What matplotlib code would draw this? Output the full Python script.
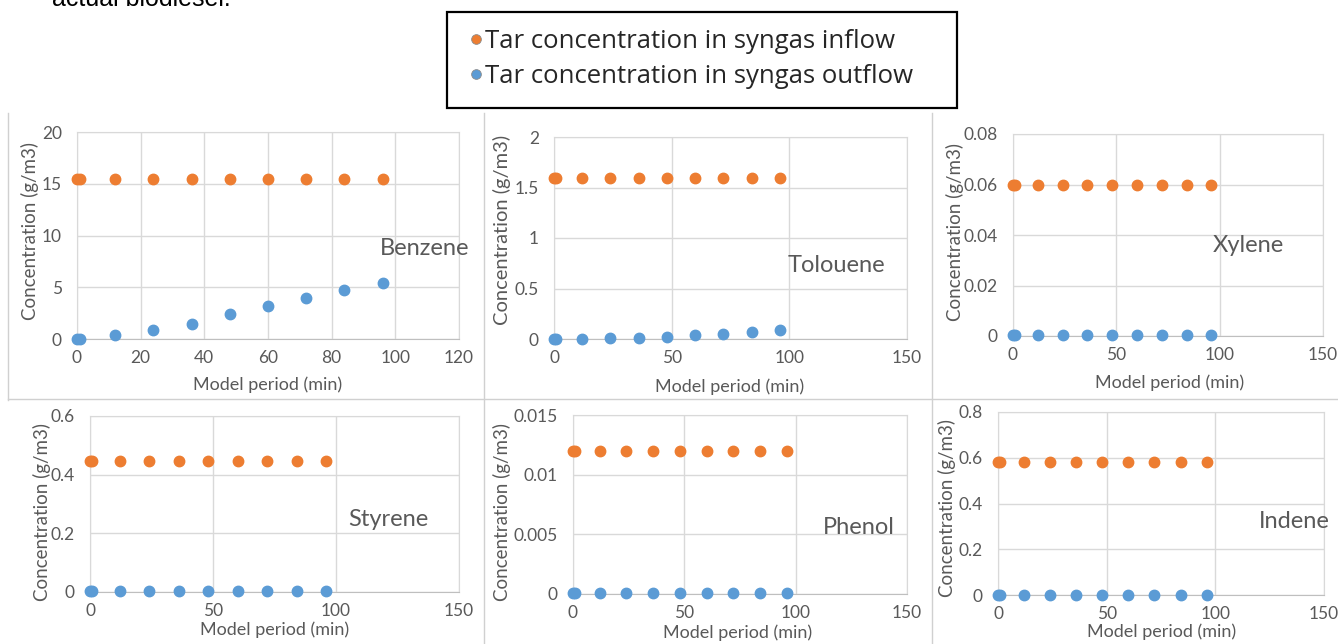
import matplotlib
matplotlib.use('Agg')
import matplotlib.pyplot as plt
from matplotlib.lines import Line2D
from matplotlib.patches import Rectangle
from matplotlib.ticker import FuncFormatter

# dane
czas = [0, 1, 12, 24, 36, 48, 60, 72, 84, 96]

nazwy = ['Benzene', 'Tolouene', 'Xylene', 'Styrene', 'Phenol', 'Indene']

benzene_in = [15.5, 15.5, 15.5, 15.5, 15.5, 15.5, 15.5, 15.5, 15.5, 15.5]
benzene_out = [0, 0, 0.35, 0.83, 1.48, 2.41, 3.18, 3.98, 4.75, 5.39]

toluene_in = [1.59, 1.59, 1.59, 1.59, 1.59, 1.59, 1.59, 1.59, 1.59, 1.59]
toluene_out = [0.002, 0.002, 0.003, 0.005, 0.005, 0.02, 0.036, 0.053, 0.07, 0.085]

xylene_in = [0.06, 0.06, 0.06, 0.06, 0.06, 0.06, 0.06, 0.06, 0.06, 0.06]
xylene_out = [0.0002, 0.0002, 0.0002, 0.0002, 0.0002, 0.0002, 0.0002, 0.0002, 0.0002, 0.0002]

styrene_in = [0.448, 0.448, 0.448, 0.448, 0.448, 0.448, 0.448, 0.448, 0.448, 0.448]
styrene_out = [0.003, 0.003, 0.003, 0.003, 0.003, 0.003, 0.003, 0.003, 0.003, 0.003]

phenol_in = [0.012, 0.012, 0.012, 0.012, 0.012, 0.012, 0.012, 0.012, 0.012, 0.012]
phenol_out = [0.0001, 0.0001, 0.0001, 0.0001, 0.0001, 0.0001, 0.0001, 0.0001, 0.0001, 0.0001]

indene_in = [0.582, 0.582, 0.582, 0.582, 0.582, 0.582, 0.582, 0.582, 0.582, 0.582]
indene_out = [0.002, 0.002, 0.002, 0.002, 0.002, 0.002, 0.002, 0.002, 0.002, 0.002]

wejscie = [benzene_in, toluene_in, xylene_in, styrene_in, phenol_in, indene_in]
wyjscie = [benzene_out, toluene_out, xylene_out, styrene_out, phenol_out, indene_out]

# zakresy osi (max, krok) dla kazdego panelu
y_max = [20, 2, 0.08, 0.6, 0.015, 0.8]
y_krok = [5, 0.5, 0.02, 0.2, 0.005, 0.2]
x_max = [120, 150, 150, 150, 150, 150]
x_krok = [20, 50, 50, 50, 50, 50]

legenda = ['Tar concentration in syngas inflow', 'Tar concentration in syngas outflow']

POMARANCZ = '#ED7D31'
NIEBIESKI = '#5B9BD5'
SZARY = '#595959'
SIATKA = '#D9D9D9'

plt.rcParams['font.family'] = ['Lato', 'DejaVu Sans']

W, H = 1338, 644
fig = plt.figure(figsize=(W / 100, H / 100), dpi=100)


def fx(x):
    return x / W


def fy(y):
    return 1 - y / H


# polozenie w pikselach: lewo, prawo, gora, dol obszaru wykresu,
# etykieta osi y (x, srodek y, rozmiar), etykieta osi x (srodek x, y), pozycja nazwy
uklad = [
    (77, 459, 132, 339, (30, 231, 13.5), (268, 385), (380, 248)),
    (554, 907, 137, 339, (502, 230, 14.5), (730, 387), (788, 265)),
    (1013, 1323, 134, 336, (955, 232, 13.5), (1170, 383), (1213, 245)),
    (90, 459, 416, 592, (42, 512, 13.5), (275, 630), (348, 519)),
    (573, 907, 415, 594, (502, 512, 13.5), (738, 633), (823, 528)),
    (998, 1324, 412, 595, (947, 508, 13.5), (1162, 632), (1259, 522)),
]

fmt = FuncFormatter(lambda v, p: '%g' % round(v, 6))

for i, (l, r, t, b, ylab, xlab, npos) in enumerate(uklad):
    ax = fig.add_axes([fx(l), fy(b), fx(r - l), (b - t) / H])
    ax.plot(czas, wejscie[i], 'o', color=POMARANCZ, ms=7.5, clip_on=False, zorder=3)
    ax.plot(czas, wyjscie[i], 'o', color=NIEBIESKI, ms=7.5, clip_on=False, zorder=3)
    ax.set_xlim(0, x_max[i])
    ax.set_ylim(0, y_max[i])
    n_x = int(round(x_max[i] / x_krok[i]))
    n_y = int(round(y_max[i] / y_krok[i]))
    ax.set_xticks([k * x_krok[i] for k in range(n_x + 1)])
    ax.set_yticks([k * y_krok[i] for k in range(n_y + 1)])
    ax.xaxis.set_major_formatter(fmt)
    ax.yaxis.set_major_formatter(fmt)
    ax.tick_params(length=0, labelsize=12.5, colors=SZARY, pad=8)
    ax.tick_params(axis='y', pad=11)
    ax.grid(True, color=SIATKA, lw=1)
    ax.set_axisbelow(True)
    for s in ax.spines.values():
        s.set_color(SIATKA)
    ax.spines['bottom'].set_color('#BFBFBF')

    fig.text(fx(ylab[0]), fy(ylab[1]), 'Concentration (g/m3)', rotation=90,
             ha='center', va='center', fontsize=ylab[2], color=SZARY)
    fig.text(fx(xlab[0]), fy(xlab[1]), 'Model period (min)', ha='center', va='center',
             fontsize=13, color=SZARY)
    fig.text(fx(npos[0]), fy(npos[1]), nazwy[i], ha='left', va='center',
             fontsize=17, color=SZARY)

# ramki paneli
for x, y0, y1 in [(8, 113, 400), (484, 113, 644), (932, 113, 644)]:
    fig.add_artist(Line2D([fx(x), fx(x)], [fy(y0), fy(y1)], color='#D0D0D0', lw=1))
fig.add_artist(Line2D([fx(8), fx(1338)], [fy(399), fy(399)], color='#D0D0D0', lw=1))

# legenda w czarnej ramce
fig.add_artist(Rectangle((fx(447), fy(108)), fx(510), 96 / H, fill=False,
                         edgecolor='black', lw=1.6, zorder=5))
uchwyty = [Line2D([], [], ls='none', marker='o', color=POMARANCZ, ms=7,
                  markeredgecolor='#8C8C8C', markeredgewidth=0.6),
           Line2D([], [], ls='none', marker='o', color=NIEBIESKI, ms=7,
                  markeredgecolor='#8C8C8C', markeredgewidth=0.6)]
fig.legend(uchwyty, legenda, loc='upper left', bbox_to_anchor=(fx(458), fy(16)),
           frameon=False, handlelength=0.4, handletextpad=0.15,
           labelspacing=0.4, borderpad=0, labelcolor='#262626',
           prop={'family': 'Open Sans', 'size': 18.5})

# uciety tekst nad wykresem
fig.text(fx(52), fy(6), 'actual biodiesel.', fontsize=18, color='black',
         family='Liberation Sans', va='baseline')

plt.savefig('out.png', dpi=100)
